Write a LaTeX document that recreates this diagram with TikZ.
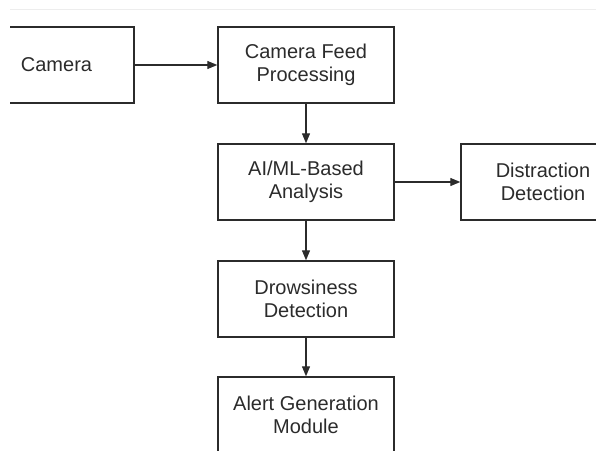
\documentclass[tikz,border=0pt]{standalone}
\usepackage{fontspec}
\setmainfont{Liberation Sans}
\usetikzlibrary{arrows.meta}
\definecolor{ink}{HTML}{2B2B2B}
\definecolor{faint}{HTML}{EDEDED}
\tikzset{
  blockbox/.style={draw=ink, line width=1.4pt, minimum height=76pt, inner sep=0pt,
    align=center, text=ink, font=\fontsize{20}{23}\selectfont},
  flow/.style={draw=ink, line width=1.2pt, -{Triangle[length=10pt,width=8pt]}}
}
\begin{document}
\begin{tikzpicture}[x=1pt,y=-1pt]
\useasboundingbox (0,0) rectangle (596,450);
\begin{scope}
\clip (10,0) rectangle (596,450);
\draw[faint, line width=0.8pt] (10,9) -- (596,9);
\node[blockbox, minimum width=155pt] (cam) at (56.5,65) {Camera};
\node[blockbox, minimum width=176pt] (cfp) at (306,65) {Camera Feed\\Processing};
\node[blockbox, minimum width=176pt] (ai) at (306,182) {AI/ML-Based\\Analysis};
\node[blockbox, minimum width=164pt] (dis) at (543,182) {Distraction\\Detection};
\node[blockbox, minimum width=176pt] (dro) at (306,299) {Drowsiness\\Detection};
\node[blockbox, minimum width=176pt] (alert) at (306,415) {Alert Generation\\Module};
\draw[flow] (cam) -- (cfp);
\draw[flow] (cfp) -- (ai);
\draw[flow] (ai) -- (dis);
\draw[flow] (ai) -- (dro);
\draw[flow] (dro) -- (alert);
\end{scope}
\end{tikzpicture}
\end{document}
